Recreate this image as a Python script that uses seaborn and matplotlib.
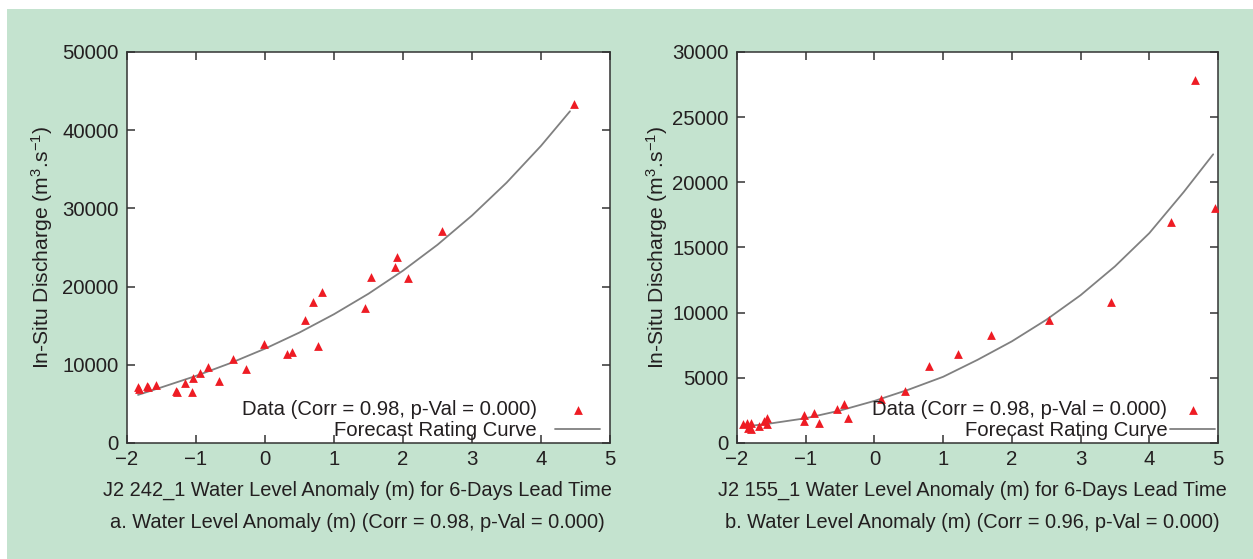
import numpy as np
import pandas as pd
import matplotlib
matplotlib.use("Agg")
import matplotlib.pyplot as plt
import seaborn as sns
from matplotlib.patches import Rectangle

# ---------------- data ----------------
# Panel a: J2 242_1
a_x = [-1.84, -1.83, -1.71, -1.69, -1.58, -1.29, -1.27, -1.16, -1.06, -1.04,
       -0.94, -0.82, -0.67, -0.47, -0.28, -0.02, 0.32, 0.39, 0.58, 0.70,
       0.82, 0.77, 1.45, 1.54, 1.88, 1.92, 2.07, 2.57, 4.48]
a_y = [7100, 6900, 7260, 7100, 7470, 6620, 6460, 7690, 6540, 8320,
       9000, 9720, 7940, 10780, 9510, 12610, 11340, 11630, 15670, 18090,
       19320, 12360, 17200, 21190, 22550, 23820, 21060, 27170, 43350]
a_curve_x = [-1.84, -1.5, -1.0, -0.5, 0.0, 0.5, 1.0, 1.5, 2.0, 2.5, 3.0, 3.5, 4.0, 4.42]
a_curve_y = [6150, 7120, 8580, 10220, 12060, 14130, 16470, 19090, 22040, 25350,
             29090, 33280, 38000, 42420]

# Panel b: J2 155_1
b_x = [-1.91, -1.86, -1.84, -1.80, -1.79, -1.68, -1.60, -1.56, -1.56, -1.03,
       -1.03, -0.88, -0.81, -0.54, -0.44, -0.38, 0.09, 0.45, 0.80, 1.22,
       1.70, 2.54, 3.45, 4.31, 4.66, 4.96]
b_y = [1460, 1560, 1130, 1050, 1510, 1310, 1720, 1950, 1460, 2150,
       1720, 2330, 1510, 2590, 3000, 1950, 3380, 4000, 5870, 6840,
       8300, 9410, 10840, 16940, 27860, 18050]
b_curve_x = [-1.9, -1.5, -1.0, -0.5, 0.0, 0.5, 1.0, 1.5, 2.0, 2.5, 3.0, 3.5, 4.0, 4.5, 4.93]
b_curve_y = [1250, 1510, 1900, 2490, 3230, 4100, 5080, 6380, 7800, 9450,
             11340, 13550, 16100, 19250, 22150]

x_ticks = [-2, -1, 0, 1, 2, 3, 4, 5]
a_y_ticks = [0, 10000, 20000, 30000, 40000, 50000]
b_y_ticks = [0, 5000, 10000, 15000, 20000, 25000, 30000]

data_label = "Data (Corr = 0.98, p-Val = 0.000)"
curve_label = "Forecast Rating Curve"
a_xlabel = "J2 242_1 Water Level Anomaly (m) for 6-Days Lead Time"
b_xlabel = "J2 155_1 Water Level Anomaly (m) for 6-Days Lead Time"
a_caption = "a. Water Level Anomaly (m) (Corr = 0.98, p-Val = 0.000)"
b_caption = "b. Water Level Anomaly (m) (Corr = 0.96, p-Val = 0.000)"
ylabel = "In-Situ Discharge (m$^3$.s$^{-1}$)"

# ---------------- style ----------------
sns.set_theme(style="ticks")
plt.rcParams["font.family"] = ["Liberation Sans", "DejaVu Sans"]
plt.rcParams["mathtext.fontset"] = "custom"
plt.rcParams["mathtext.rm"] = "Liberation Sans"
plt.rcParams["mathtext.it"] = "Liberation Sans:italic"
plt.rcParams["mathtext.bf"] = "Liberation Sans:bold"

BG = "#c4e3cf"
TXT = "#231f20"
RED = "#ee1c24"
GRAY = "#808080"
SPINE = "#333333"
FS = 14.4
FS_TICK = 14.7
FS_LEG = 14.6
FS_YLAB = 15.2

fig = plt.figure(figsize=(12.53, 5.59), dpi=100)
fig.patch.set_facecolor("white")
fig.patches.append(Rectangle((7 / 1253, 0), 1 - 7 / 1253, 550 / 559,
                             transform=fig.transFigure, facecolor=BG,
                             edgecolor="none", zorder=-10))

H = 391 / 559
B = (559 - 443) / 559
ax_a = fig.add_axes([127 / 1253, B, 483 / 1253, H])
ax_b = fig.add_axes([737 / 1253, B, 481 / 1253, H])

panels = [
    (ax_a, a_x, a_y, a_curve_x, a_curve_y, a_y_ticks, 50000, a_xlabel, a_caption,
     0.478, -0.15, 0.9, 0.35, -0.018),
    (ax_b, b_x, b_y, b_curve_x, b_curve_y, b_y_ticks, 30000, b_xlabel, b_caption,
     0.4886, -0.14, 0.15, 0.0, 0.0),
]

for ax, px, py, cx, cy, yt, ymax, xl, cap, xl_pos, yl_pos, tpad, bpad, ly in panels:
    ax.set_facecolor("white")
    df_pts = pd.DataFrame({"x": px, "y": py})
    df_cur = pd.DataFrame({"x": cx, "y": cy})
    sns.lineplot(data=df_cur, x="x", y="y", ax=ax, color=GRAY, lw=1.3,
                 label=curve_label, sort=True, estimator=None, zorder=2)
    sns.scatterplot(data=df_pts, x="x", y="y", ax=ax, marker="^", color=RED,
                    s=40, linewidth=0, label=data_label, zorder=3)
    ax.set_xlim(-2, 5)
    ax.set_ylim(0, ymax)
    ax.set_xticks(x_ticks)
    ax.set_yticks(yt)
    ax.set_yticklabels([str(v) for v in yt])
    ax.tick_params(direction="in", top=True, right=True, length=6, width=1.1,
                   color=SPINE, labelsize=FS_TICK, labelcolor=TXT)
    ax.tick_params(axis="y", pad=6)
    ax.tick_params(axis="x", pad=5)
    for sp in ax.spines.values():
        sp.set_color(SPINE)
        sp.set_linewidth(1.1)
    ax.set_xlabel(xl, fontsize=FS, color=TXT)
    ax.set_ylabel(ylabel, fontsize=FS_YLAB, color=TXT)
    ax.xaxis.set_label_coords(xl_pos, -0.097)
    ax.yaxis.set_label_coords(yl_pos, 0.5)
    # caption under the panel
    ax.text(xl_pos, -0.203, cap, transform=ax.transAxes, ha="center", va="center",
            fontsize=FS, color=TXT)
    # legend: text first, marker on the right (gnuplot style)
    h, l = ax.get_legend_handles_labels()
    order = [l.index(data_label), l.index(curve_label)]
    leg = ax.legend([h[i] for i in order], [l[i] for i in order],
                    loc="lower right", bbox_to_anchor=(1.0, ly),
                    markerfirst=False, frameon=False, fontsize=FS_LEG,
                    handlelength=2.2, handletextpad=tpad, labelspacing=0.1,
                    borderaxespad=bpad, borderpad=0.15)
    for t in leg.get_texts():
        t.set_color(TXT)

fig.savefig("out.png", dpi=100, facecolor=fig.get_facecolor())
